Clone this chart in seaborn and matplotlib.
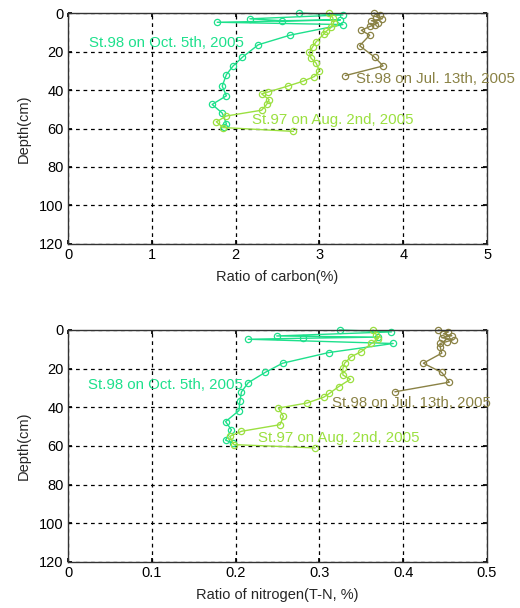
import seaborn as sns
import matplotlib.pyplot as plt
import numpy as np
import pandas as pd

# depth profiles (depth in cm)

# carbon (%)
depth_c_oct = [0, 1, 3, 4, 3.6, 4.8, 6, 11.5, 16.5, 23, 27.5, 32, 38, 43, 47.5, 52, 57.5, 59]
c_oct = [2.76, 3.28, 2.17, 2.55, 3.25, 1.78, 3.28, 2.65, 2.27, 2.08, 1.97, 1.89, 1.84, 1.89, 1.72, 1.84, 1.89, 1.86]

depth_c_aug = [0, 2.5, 5, 7.5, 9.5, 11, 15, 17.5, 20.5, 23.5, 26, 30, 33, 35.5, 38, 41, 42, 45, 47.5, 50.5, 53.5, 56.5, 59.5, 61.5]
c_aug = [3.12, 3.16, 3.17, 3.14, 3.08, 3.05, 2.96, 2.92, 2.88, 2.9, 2.96, 3.0, 2.94, 2.8, 2.62, 2.39, 2.31, 2.4, 2.37, 2.31, 1.89, 1.77, 1.85, 2.69]

depth_c_jul = [0, 1, 2, 3, 4, 5, 6, 7, 9, 11.5, 17, 23, 27.5, 32.5]
c_jul = [3.65, 3.72, 3.68, 3.75, 3.62, 3.70, 3.66, 3.60, 3.5, 3.6, 3.48, 3.66, 3.76, 3.31]

# nitrogen (T-N, %)
depth_n_oct = [0, 1, 3.1, 3.7, 4.3, 4.8, 7, 11.7, 17.2, 22, 27.3, 32, 37, 41.7, 47.4, 51.7, 57, 58.5]
n_oct = [0.324, 0.386, 0.249, 0.37, 0.280, 0.215, 0.388, 0.311, 0.256, 0.235, 0.215, 0.207, 0.205, 0.204, 0.188, 0.195, 0.188, 0.197]

depth_n_aug = [0, 2.5, 4.5, 7, 11.2, 13.8, 17.2, 19.8, 23.3, 25.5, 29.3, 32.8, 34.8, 37.8, 40.4, 44.7, 49, 52.4, 55, 59.3, 61]
n_aug = [0.364, 0.368, 0.37, 0.362, 0.35, 0.338, 0.33, 0.328, 0.328, 0.337, 0.323, 0.312, 0.305, 0.285, 0.251, 0.257, 0.253, 0.207, 0.193, 0.198, 0.295]

depth_n_jul = [0, 1, 2, 3, 4, 5, 6, 7, 8.6, 12, 17.2, 22, 27, 32]
n_jul = [0.442, 0.454, 0.448, 0.458, 0.446, 0.46, 0.452, 0.444, 0.444, 0.446, 0.424, 0.446, 0.455, 0.39]

labels = ["St.98 on Oct. 5th, 2005", "St.97 on Aug. 2nd, 2005", "St.98 on Jul. 13th, 2005"]
colors = ["#1ee08c", "#9be040", "#8a8245"]

depth_ticks = [0, 20, 40, 60, 80, 100, 120]
c_ticks = [0, 1, 2, 3, 4, 5]
c_ticklabels = ["0", "1", "2", "3", "4", "5"]
n_ticks = [0, 0.1, 0.2, 0.3, 0.4, 0.5]
n_ticklabels = ["0", "0.1", "0.2", "0.3", "0.4", "0.5"]

sns.set_theme(style="white")
plt.rcParams["font.family"] = ["Liberation Sans", "DejaVu Sans"]

fig = plt.figure(figsize=(5.2, 6.08), dpi=100)
ax1 = fig.add_axes([0.1308, 0.5987, 0.8058, 0.3799])
ax2 = fig.add_axes([0.1308, 0.0757, 0.8058, 0.3816])


def profile(ax, xs, ys, color):
    df = pd.DataFrame({"x": xs, "y": ys})
    sns.lineplot(data=df, x="x", y="y", sort=False, estimator=None, ax=ax,
                 color=color, lw=1, marker="o", markersize=4.5, clip_on=False,
                 markerfacecolor="none", markeredgecolor=color, markeredgewidth=0.9)


def style_axes(ax, xmax, ticks, ticklabels, xlabel):
    ax.set_xlim(0, xmax)
    ax.set_ylim(120, 0)
    ax.set_xticks(ticks)
    ax.set_xticklabels(ticklabels)
    ax.set_yticks(depth_ticks)
    ax.set_xlabel(xlabel, fontsize=10.5, labelpad=6)
    ax.set_ylabel("Depth(cm)", fontsize=10.5, labelpad=6)
    ax.grid(True, color="black", linestyle=(0, (3, 3)), linewidth=0.9)
    ax.set_axisbelow(True)
    ax.tick_params(direction="in", length=3, labelsize=10.5, colors="black", pad=3,
                   top=True, right=True, bottom=True, left=True)
    for s in ax.spines.values():
        s.set_color("#333333")
        s.set_linewidth(1.0)


# carbon
profile(ax1, c_oct, depth_c_oct, colors[0])
profile(ax1, c_aug, depth_c_aug, colors[1])
profile(ax1, c_jul, depth_c_jul, colors[2])
style_axes(ax1, 5, c_ticks, c_ticklabels, "Ratio of carbon(%)")
ax1.text(0.25, 15.4, labels[0], color=colors[0], fontsize=10.8, va="center")
ax1.text(2.2, 55.6, labels[1], color=colors[1], fontsize=10.8, va="center")
ax1.text(3.44, 34.3, labels[2], color=colors[2], fontsize=10.8, va="center", clip_on=False)

# nitrogen
profile(ax2, n_oct, depth_n_oct, colors[0])
profile(ax2, n_aug, depth_n_aug, colors[1])
profile(ax2, n_jul, depth_n_jul, colors[2])
style_axes(ax2, 0.5, n_ticks, n_ticklabels, "Ratio of nitrogen(T-N, %)")
ax2.text(0.024, 28.5, labels[0], color=colors[0], fontsize=10.8, va="center")
ax2.text(0.227, 56, labels[1], color=colors[1], fontsize=10.8, va="center")
ax2.text(0.315, 37.9, labels[2], color=colors[2], fontsize=10.8, va="center", clip_on=False)

fig.savefig("out.png", dpi=100)
